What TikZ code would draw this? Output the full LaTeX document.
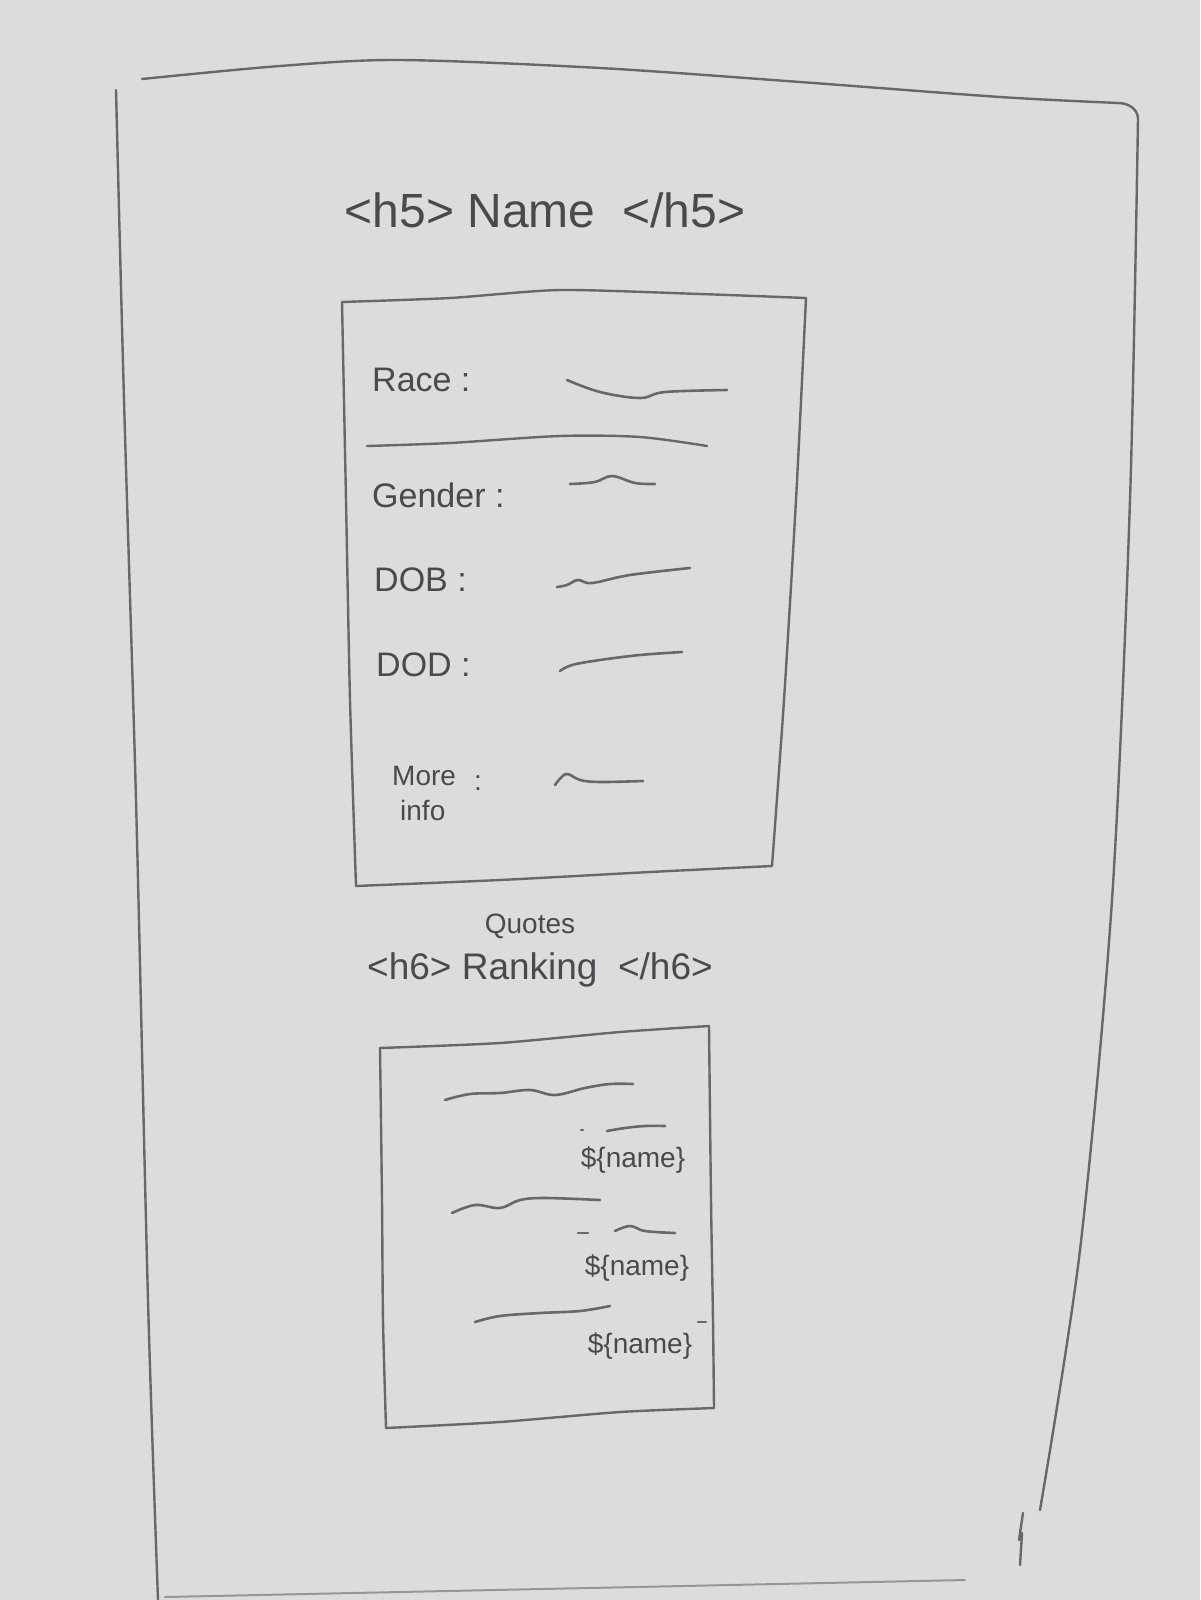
\documentclass[tikz,border=0pt]{standalone}
\usepackage{fontspec}
\setmainfont{Liberation Sans}
\definecolor{paper}{HTML}{DCDCDE}
\definecolor{penc}{HTML}{68686A}
\definecolor{inkc}{HTML}{4A4A4E}
\begin{document}
\begin{tikzpicture}[x=1pt,y=-1pt,
  pen/.style={draw=penc,line width=2.4pt,line cap=round,line join=round},
  faintpen/.style={draw=penc!60!paper,line width=2pt,line cap=round},
  squig/.style={draw=penc,line width=2.6pt,line cap=round,line join=round},
  hand/.style={text=inkc,font=\fontsize{34}{38}\selectfont,inner sep=0pt},
  small/.style={text=inkc,font=\fontsize{28}{30}\selectfont,inner sep=0pt},
  subtitle/.style={text=inkc,font=\fontsize{37}{40}\selectfont,inner sep=0pt},
  title/.style={text=inkc,font=\fontsize{48}{52}\selectfont,inner sep=0pt}]
% paper
\fill[paper] (0,0) rectangle (1200,1600);
\useasboundingbox (0,0) rectangle (1200,1600);

% page frame
\draw[pen] plot[smooth,tension=0.5] coordinates {(142,79) (280,66) (400,60) (600,68) (800,82) (1000,97) (1118,103)}
  to[out=0,in=95] (1138,118)
  plot[smooth,tension=0.5] coordinates {(1138,118) (1130,500) (1112,900) (1080,1250) (1040,1510)};
\draw[pen] plot[smooth,tension=0.5] coordinates {(116,90) (124,400) (136,800) (148,1300) (158,1600)};
\draw[faintpen] (165,1597) -- (965,1580);
\draw[pen] (1023,1513) -- (1019,1540) -- (1022,1533) -- (1020,1565);

% heading
\node[title] (h5) at (545,210) {<h5>\ Name \ </h5>};

% details card
\draw[pen] plot[smooth,tension=0.4] coordinates {(342,302) (450,298) (560,290) (700,294) (806,298)};
\draw[pen] plot[smooth,tension=0.4] coordinates {(806,298) (796,500) (784,700) (772,866)};
\draw[pen] plot[smooth,tension=0.4] coordinates {(342,302) (346,500) (350,700) (356,886)};
\draw[pen] plot[smooth,tension=0.4] coordinates {(356,886) (500,880) (650,872) (772,866)};
\draw[pen] plot[smooth,tension=0.5] coordinates {(367,446) (450,443) (560,436) (640,437) (707,446)};

\node[hand,anchor=west] (race) at (372,380) {Race :};
\draw[squig] plot[smooth,tension=0.6] coordinates {(567,380) (600,392) (640,398) (665,392) (727,390)};

\node[hand,anchor=west] (gender) at (372,495) {Gender :};
\draw[squig] plot[smooth,tension=0.6] coordinates {(570,484) (595,482) (612,476) (635,483) (655,484)};

\node[hand,anchor=west] (dob) at (374,580) {DOB :};
\draw[squig] plot[smooth,tension=0.6] coordinates {(557,587) (567,585) (578,580) (592,583) (630,575) (690,568)};

\node[hand,anchor=west] (dod) at (376,665) {DOD :};
\draw[squig] plot[smooth,tension=0.6] coordinates {(560,671) (572,665) (600,660) (640,655) (682,652)};

\node[small,anchor=west] (more) at (392,776) {More};
\node[small,anchor=west] (info) at (400,810) {info};
\node[small] (colon) at (478,783) {:};
\draw[squig] plot[smooth,tension=0.6] coordinates {(555,785) (566,774) (580,780) (600,782) (643,781)};

% quotes heading
\node[small] (quotes) at (530,926) {Quotes};
\node[subtitle] (h6) at (540,970) {<h6>\ Ranking \ </h6>};

% quotes card
\draw[pen] plot[smooth,tension=0.4] coordinates {(380,1048) (500,1043) (620,1032) (709,1026)};
\draw[pen] plot[smooth,tension=0.4] coordinates {(380,1048) (382,1200) (383,1320) (386,1428)};
\draw[pen] plot[smooth,tension=0.4] coordinates {(709,1026) (711,1200) (713,1320) (714,1408)};
\draw[pen] plot[smooth,tension=0.4] coordinates {(386,1428) (500,1422) (620,1412) (714,1408)};

% quote 1
\draw[squig] plot[smooth,tension=0.6] coordinates {(445,1100) (470,1094) (500,1093) (530,1090) (555,1095) (585,1088) (610,1084) (633,1084)};
\draw[squig] (581,1130) -- (583,1130);
\draw[squig] plot[smooth,tension=0.6] coordinates {(607,1131) (625,1128) (645,1126) (665,1126)};
\node[small] (name1) at (633,1160) {\$\{name\}};

% quote 2
\draw[squig] plot[smooth,tension=0.6] coordinates {(452,1213) (475,1205) (500,1208) (520,1200) (545,1198) (600,1200)};
\draw[squig] (578,1233) -- (588,1233);
\draw[squig] plot[smooth,tension=0.6] coordinates {(615,1231) (630,1226) (645,1231) (675,1233)};
\node[small] (name2) at (637,1268) {\$\{name\}};

% quote 3
\draw[squig] plot[smooth,tension=0.6] coordinates {(475,1322) (500,1316) (540,1313) (580,1311) (610,1306)};
\node[small] (name3) at (640,1346) {\$\{name\}};
\draw[squig] (698,1322) -- (706,1322);
\end{tikzpicture}
\end{document}
